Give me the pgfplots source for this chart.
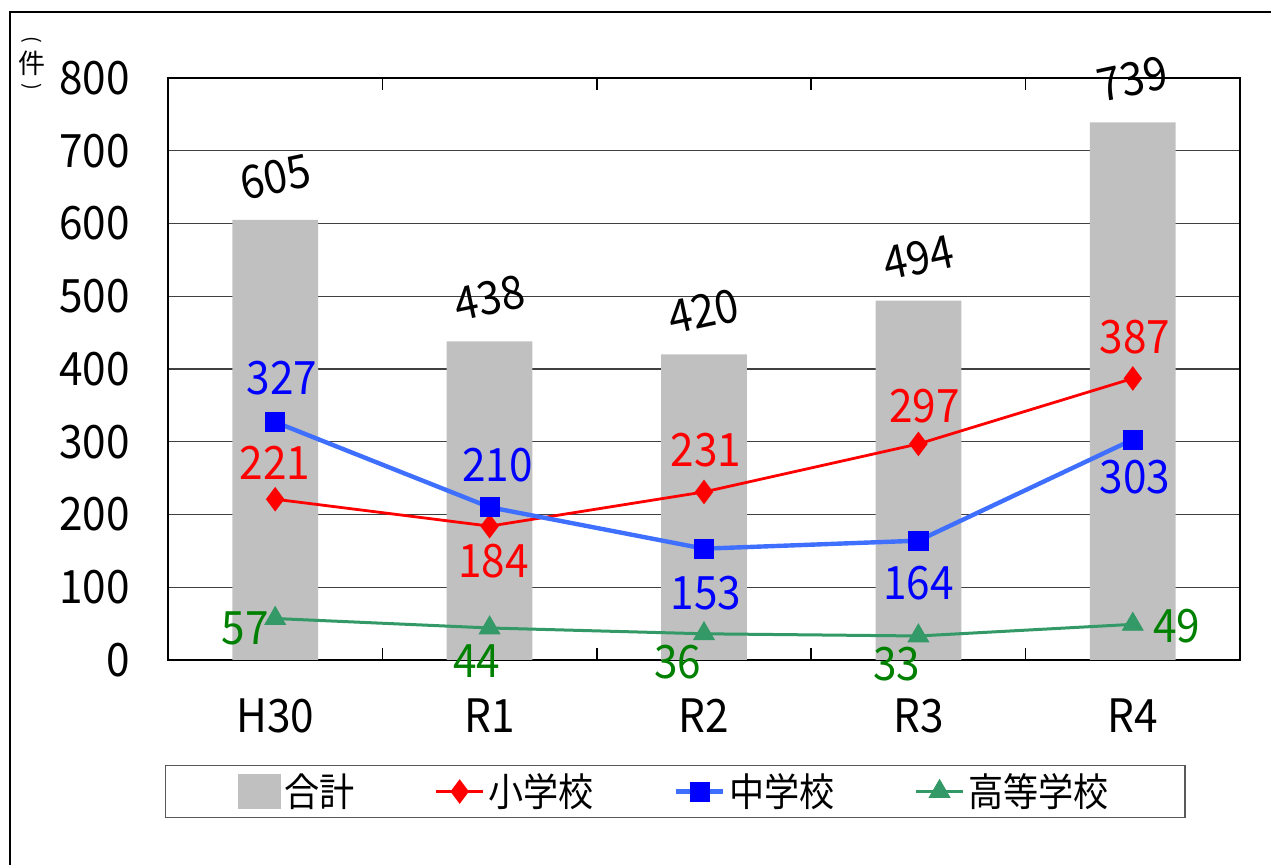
\documentclass[border=0pt]{standalone}
\usepackage{fontspec}
\usepackage{pgfplots}
\usepackage{pgfplotstable}
\pgfplotsset{compat=1.18}
\setmainfont{Noto Sans CJK JP}[FakeStretch=0.92]
\newfontfamily\legendfont{Noto Sans CJK JP}[FakeStretch=0.9]
\newfontfamily\unitfont{Noto Sans CJK JP}

\definecolor{barg}{HTML}{C0C0C0}
\definecolor{elemred}{HTML}{FF0000}
\definecolor{juniorline}{HTML}{3F6FFF}
\definecolor{juniormark}{HTML}{0000FF}
\definecolor{highg}{HTML}{339966}
\definecolor{highlabel}{HTML}{008000}

% totals per year
\pgfplotstableread{
x y
0 605
1 438
2 420
3 494
4 739
}\totaltab

% elementary schools (label offsets dx, dy in pt)
\pgfplotstableread{
x y dx dy
0 221 0 18
1 184 2 -17.5
2 231 1 21
3 297 3 19
4 387 1 20.5
}\elemtab

% junior high schools
\pgfplotstableread{
x y dx dy
0 327 3.5 22
1 210 4 21
2 153 1 -22
3 164 0 -21
4 303 1 -19
}\juniortab

% high schools
\pgfplotstableread{
x y dx dy
0 57 -15 -5
1 44 -6.3 -16.5
2 36 -13 -14
3 33 -10.7 -14
4 49 22 -1
}\hightab

\pgfplotsset{
  /pgf/number format/assume math mode=true,
  offset value labels/.style={
    nodes near coords,
    visualization depends on={\thisrow{dx} \as \dx},
    visualization depends on={\thisrow{dy} \as \dy},
    nodes near coords style={anchor=center, inner sep=0pt,
      font=\fontsize{23}{27}\selectfont, text=#1,
      xshift=\dx*1pt, yshift=\dy*1pt},
  },
  school line legend/.style={
    legend image code/.code={
      \draw[mark repeat=2, mark phase=2, ##1]
        plot coordinates {(0pt,0pt) (11.75pt,0pt) (23.5pt,0pt)};
    }
  },
}

\begin{document}
\begin{tikzpicture}
\useasboundingbox (0,0) rectangle (635.5pt,432.5pt);
\draw[black, line width=0.8pt] (5pt,0pt) -- (5pt,426.5pt) -- (636pt,426.5pt);
% unit label, set vertically
\node[font=\unitfont\fontsize{10}{12}\selectfont, inner sep=0pt, rotate=-90]
  at (16pt,412.5pt) {(};
\node[font=\unitfont\fontsize{13.5}{16}\selectfont, inner sep=0pt]
  at (16pt,401pt) {件};
\node[font=\unitfont\fontsize{10}{12}\selectfont, inner sep=0pt, rotate=-90]
  at (16pt,389pt) {)};

\begin{axis}[
  at={(84pt,102.5pt)}, anchor=south west,
  scale only axis, width=536pt, height=291pt,
  xmin=-0.5, xmax=4.5, ymin=0, ymax=800,
  xtick={0,1,2,3,4},
  xticklabels={H30,R1,R2,R3,R4},
  minor xtick={0.5,1.5,2.5,3.5},
  ytick={0,100,...,800},
  tick align=inside,
  major x tick style={draw=none},
  minor x tick style={black, line width=0.8pt},
  minor tick length=6pt,
  ytick style={draw=none},
  ymajorgrids,
  grid style={black!75, line width=0.6pt},
  axis line style={black, line width=1pt},
  tick label style={font=\fontsize{23}{27}\selectfont},
  xticklabel shift=16pt,
  yticklabel shift=15.5pt,
  legend columns=4,
  legend style={
    at={(-0.003,-0.18)}, anchor=north west,
    draw=black!65, line width=0.8pt,
    font=\legendfont\fontsize{19.5}{21}\selectfont,
    inner xsep=36pt, inner ysep=2pt,
    cells={anchor=west},
    /tikz/every even column/.append style={column sep=38pt},
  },
]
\addplot[ybar, bar width=0.4, fill=barg, draw=none,
  nodes near coords,
  nodes near coords style={anchor=center, inner sep=0pt,
    font=\fontsize{23}{27}\selectfont, text=black, yshift=21.5pt, rotate=12},
  legend image code/.code={\fill[barg] (0pt,-8.75pt) rectangle (21.5pt,8.75pt);},
] table[x=x, y=y] {\totaltab};
\addlegendentry{合計}

\addplot[elemred, line width=1.4pt, mark=diamond*, mark size=5pt,
  mark options={fill=elemred, solid}, school line legend,
  offset value labels=elemred] table[x=x, y=y] {\elemtab};
\addlegendentry{小学校}

\addplot[juniorline, line width=2.2pt, mark=square*, mark size=4.8pt,
  mark options={fill=juniormark, draw=juniormark, line width=0.4pt}, school line legend,
  offset value labels=juniormark] table[x=x, y=y] {\juniortab};
\addlegendentry{中学校}

\addplot[highg, line width=1.5pt, mark=triangle*, mark size=6pt,
  mark options={fill=highg, line width=0.4pt}, school line legend,
  offset value labels=highlabel] table[x=x, y=y] {\hightab};
\addlegendentry{高等学校}
\end{axis}
\end{tikzpicture}
\end{document}
